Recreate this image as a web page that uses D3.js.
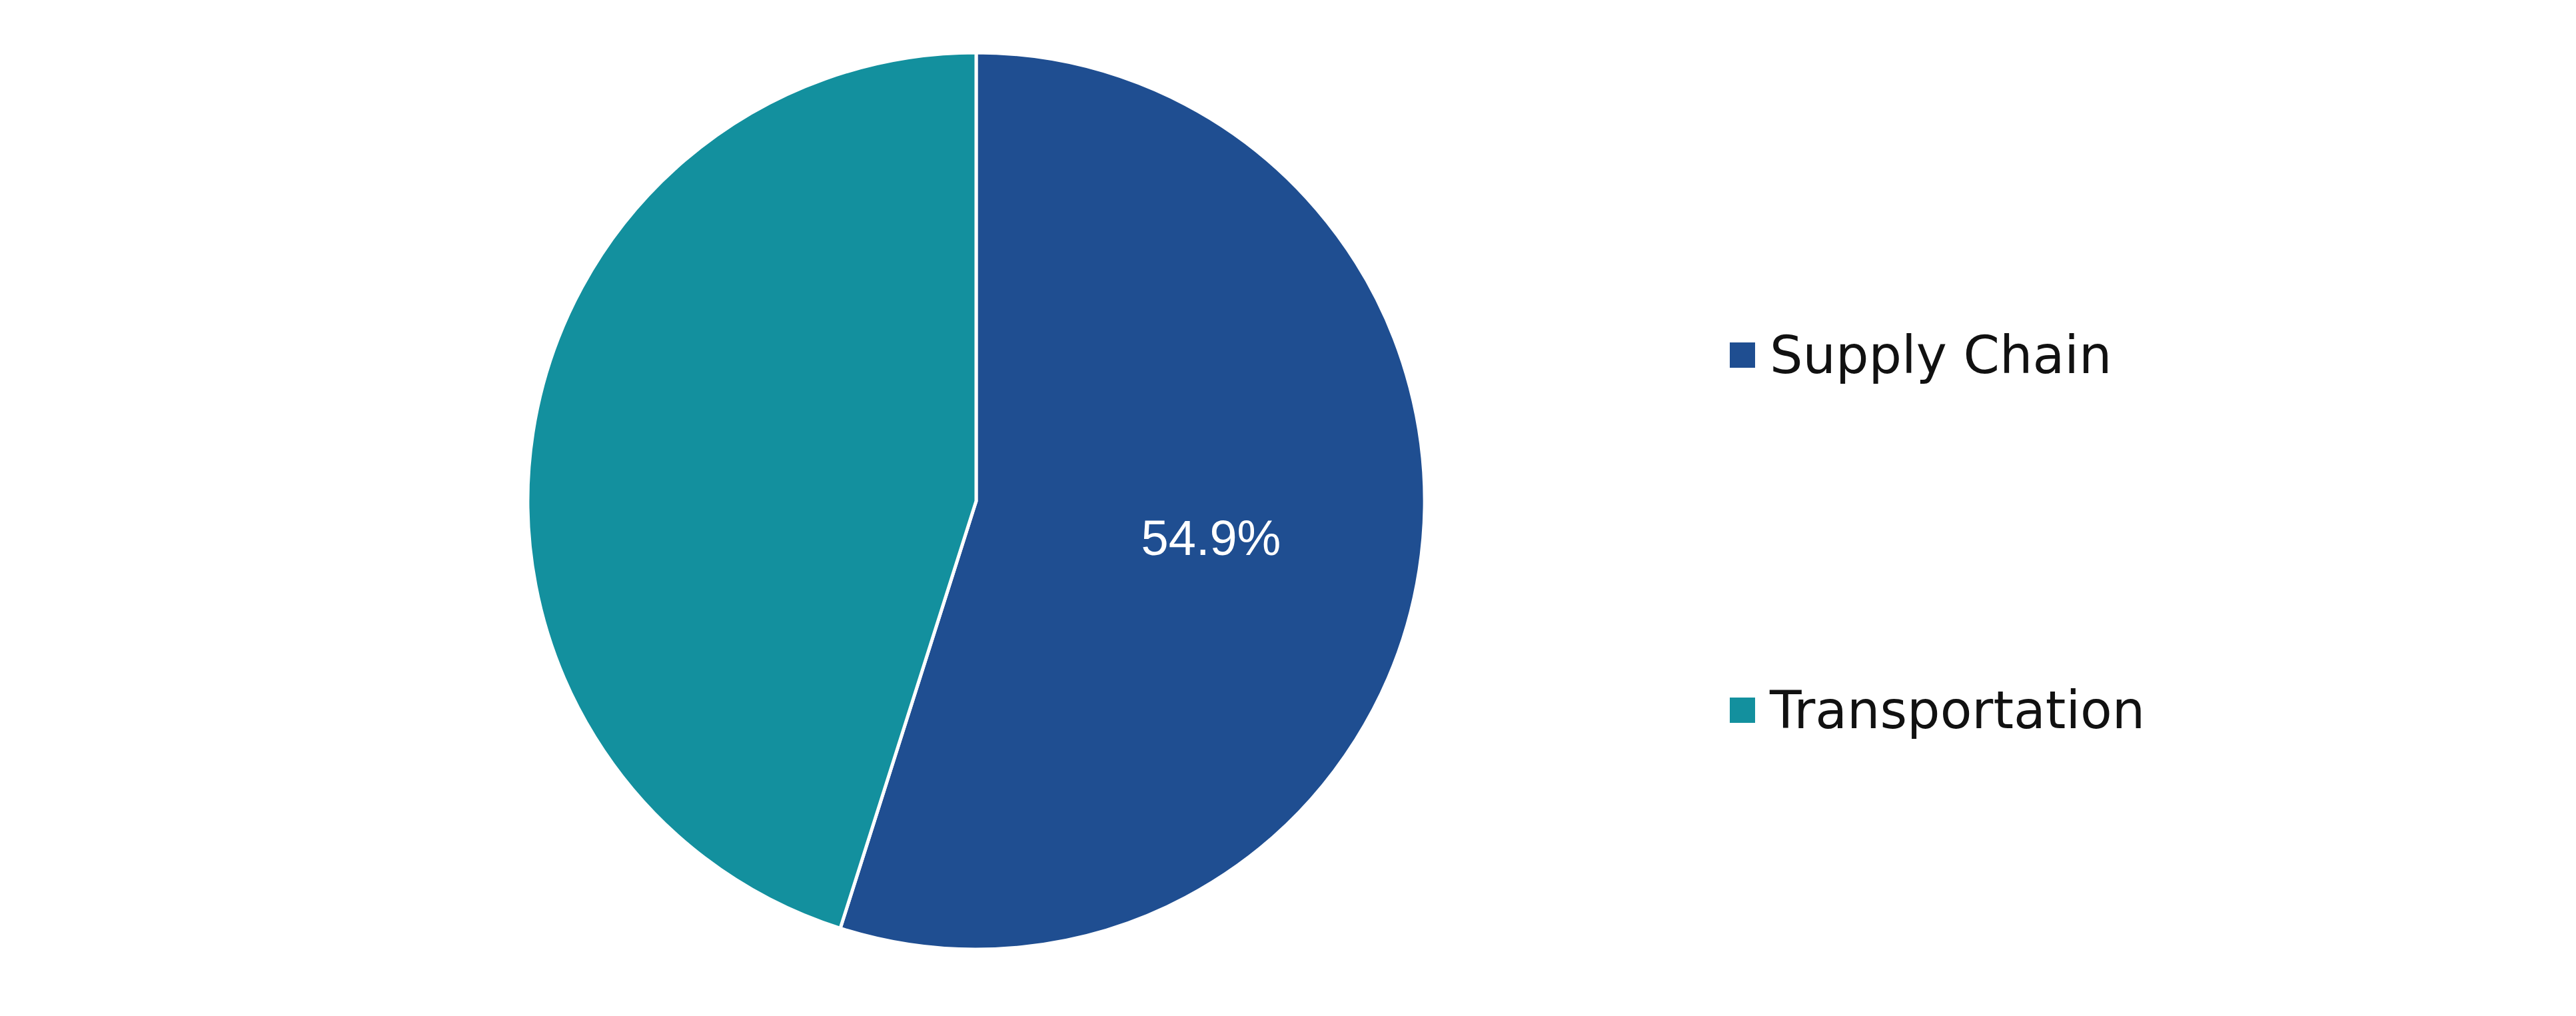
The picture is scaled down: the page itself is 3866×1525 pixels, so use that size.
<!DOCTYPE html>
<html>
<head>
<meta charset="utf-8">
<script src="https://cdn.jsdelivr.net/npm/d3@7"></script>
<style>
  body { margin: 0; background: #fff; }
</style>
</head>
<body>
<div id="chart"></div>
<script>
const categories = ['Supply Chain', 'Transportation']
const shares = [54.9, 45.1]
const colors = ['#1f4e91', '#13909e']

const W = 3866, H = 1525
const cx = 1465, cy = 752, r = 673

const svg = d3.select('#chart').append('svg')
  .attr('width', W).attr('height', H)

const pie = d3.pie().sort(null).value(d => d)
const arcs = pie(shares)
const arc = d3.arc().innerRadius(0).outerRadius(r)
const labelArc = d3.arc().innerRadius(r * 1.06).outerRadius(r * 1.06 * 0)

const g = svg.append('g').attr('transform', `translate(${cx},${cy})`)

g.selectAll('path')
  .data(arcs)
  .join('path')
  .attr('d', arc)
  .attr('fill', (d, i) => colors[i])
  .attr('stroke', '#fff')
  .attr('stroke-width', 5)

// only the larger slice is labelled in the original
const lab = d3.arc().innerRadius(r * 0.53).outerRadius(r * 0.53)
g.append('text')
  .attr('transform', `translate(${lab.centroid(arcs[0])})`)
  .attr('text-anchor', 'middle')
  .attr('dy', '0.35em')
  .attr('font-family', 'Liberation Sans, Arial, sans-serif')
  .attr('font-size', 74)
  .attr('fill', '#fff')
  .text(shares[0].toFixed(1) + '%')

const legend = svg.append('g').attr('transform', 'translate(2596,0)')
const ly = d3.scalePoint().domain(categories).range([533, 1066])

const item = legend.selectAll('g')
  .data(categories)
  .join('g')
  .attr('transform', d => `translate(0,${ly(d)})`)

item.append('rect')
  .attr('x', 0).attr('y', -19)
  .attr('width', 38).attr('height', 38)
  .attr('fill', (d, i) => colors[i])

item.append('text')
  .attr('x', 60).attr('dy', '0.35em')
  .attr('font-family', 'DejaVu Sans, Verdana, sans-serif')
  .attr('font-size', 78)
  .attr('fill', '#111')
  .text(d => d)
</script>
</body>
</html>
